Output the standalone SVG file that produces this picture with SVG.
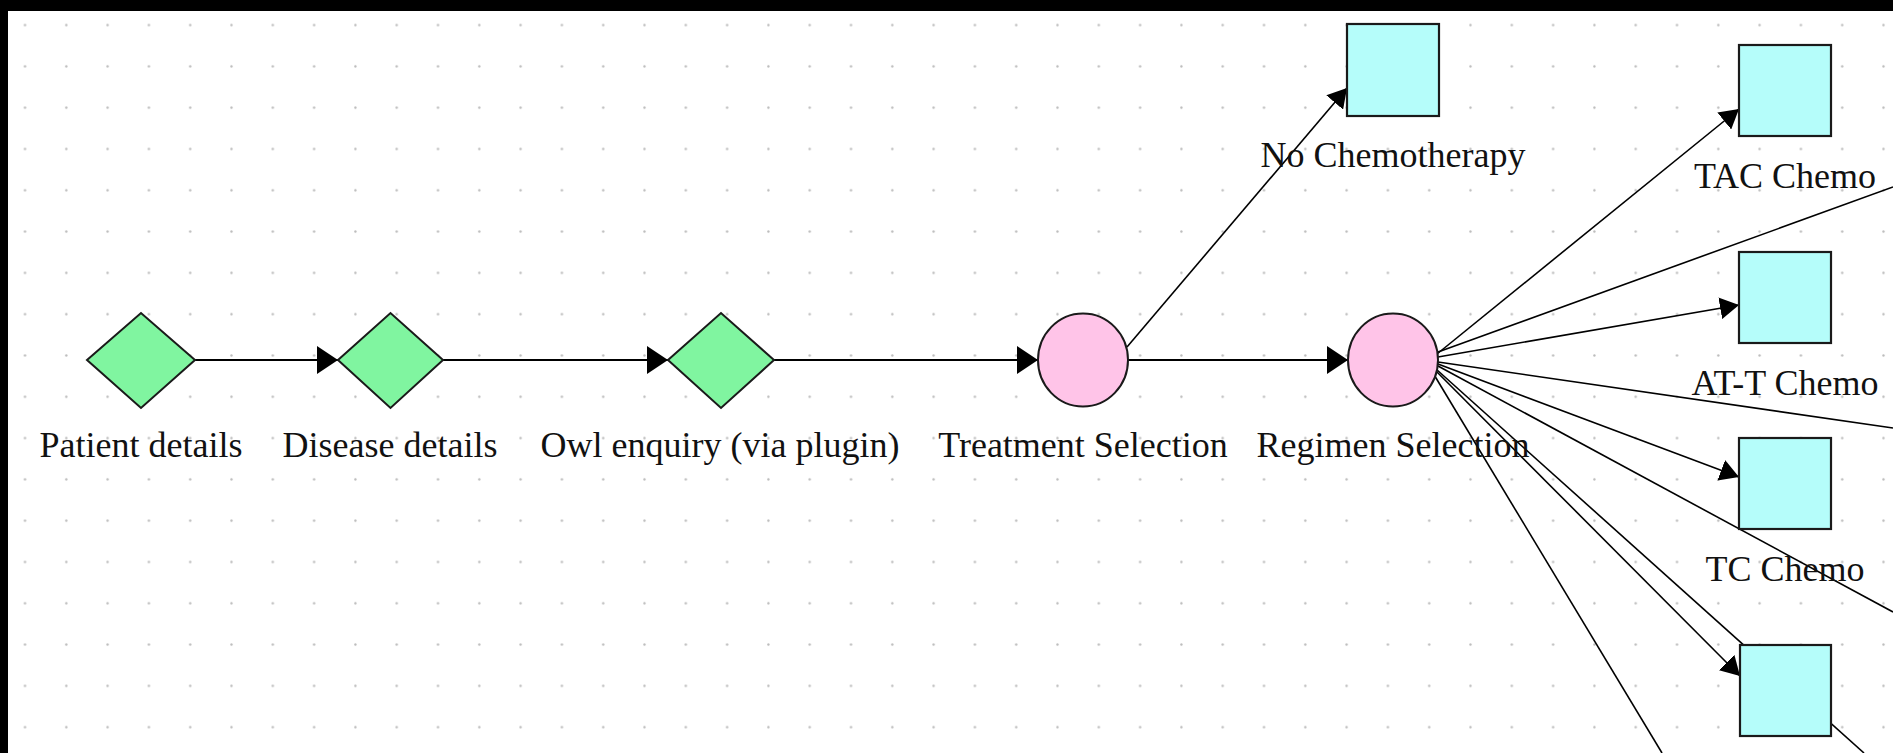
<svg xmlns="http://www.w3.org/2000/svg" width="1893" height="753" viewBox="0 0 1893 753">
<style>
.lbl{font-family:"Liberation Serif","Times New Roman",serif;font-size:36px;fill:#111;text-anchor:middle}
.dia{fill:#80F5A0;stroke:#1a1a1a;stroke-width:2}
.cir{fill:#FFC4E8;stroke:#1a1a1a;stroke-width:2}
.box{fill:#B5FDFA;stroke:#1a1a1a;stroke-width:2.2}
.con{fill:none;stroke:#000;stroke-width:1.6}
.conh{fill:none;stroke:#000;stroke-width:2}
</style>
<defs>
<pattern id="grid" patternUnits="userSpaceOnUse" x="0" y="0" width="41.3" height="41.3">
<circle cx="25" cy="25" r="1.2" fill="#bbbbbb"/>
</pattern>
<marker id="arr" markerUnits="userSpaceOnUse" markerWidth="24" markerHeight="28" refX="21" refY="14" orient="auto">
<path d="M0,0 L21,14 L0,28 z" fill="#000"/>
</marker>
<marker id="arrs" markerUnits="userSpaceOnUse" markerWidth="22" markerHeight="22" refX="19" refY="11" orient="auto">
<path d="M0,0 L19,11 L0,22 z" fill="#000"/>
</marker>
</defs>
<rect x="0" y="0" width="1893" height="753" fill="#fff"/>
<rect x="0" y="0" width="1893" height="753" fill="url(#grid)"/>
<rect x="0" y="0" width="1893" height="11" fill="#000"/>
<rect x="0" y="0" width="8" height="753" fill="#000"/>

<g id="connectors">
<line class="conh" x1="195" y1="360" x2="338" y2="360" marker-end="url(#arr)"/>
<line class="conh" x1="443" y1="360" x2="668" y2="360" marker-end="url(#arr)"/>
<line class="conh" x1="774" y1="360" x2="1038" y2="360" marker-end="url(#arr)"/>
<line class="conh" x1="1128" y1="360" x2="1348" y2="360" marker-end="url(#arr)"/>
<line class="con" x1="1127" y1="347" x2="1347" y2="88" marker-end="url(#arrs)"/>
<line class="con" x1="1437" y1="354" x2="1739" y2="109" marker-end="url(#arrs)"/>
<line class="con" x1="1438" y1="352" x2="1893" y2="187"/>
<line class="con" x1="1438" y1="357" x2="1739" y2="305" marker-end="url(#arrs)"/>
<line class="con" x1="1438" y1="362" x2="1893" y2="428"/>
<line class="con" x1="1438" y1="364" x2="1739" y2="477" marker-end="url(#arrs)"/>
<line class="con" x1="1438" y1="366" x2="1893" y2="612"/>
<line class="con" x1="1436" y1="369" x2="1864" y2="753"/>
<line class="con" x1="1436" y1="371" x2="1740" y2="676" marker-end="url(#arrs)"/>
<line class="con" x1="1433" y1="373" x2="1662" y2="753"/>
</g>

<g id="patient-details">
<polygon class="dia" points="87,360 141,313 195,360 141,408"/>
<text class="lbl" x="141" y="457">Patient details</text>
</g>
<g id="disease-details">
<polygon class="dia" points="338,360 390.5,313 443,360 390.5,408"/>
<text class="lbl" x="390" y="457">Disease details</text>
</g>
<g id="owl-enquiry">
<polygon class="dia" points="668,360 721,313 774,360 721,408"/>
<text class="lbl" x="720" y="457">Owl enquiry (via plugin)</text>
</g>
<g id="treatment-selection">
<ellipse class="cir" cx="1083" cy="360" rx="45" ry="46.5"/>
<text class="lbl" x="1083" y="457">Treatment Selection</text>
</g>
<g id="regimen-selection">
<ellipse class="cir" cx="1393" cy="360" rx="45" ry="46.5"/>
<text class="lbl" x="1393" y="457">Regimen Selection</text>
</g>
<g id="no-chemotherapy">
<rect class="box" x="1347" y="24" width="92" height="92"/>
<text class="lbl" x="1393" y="167">No Chemotherapy</text>
</g>
<g id="tac-chemo">
<rect class="box" x="1739" y="45" width="92" height="91"/>
<text class="lbl" x="1785" y="188">TAC Chemo</text>
</g>
<g id="at-t-chemo">
<rect class="box" x="1739" y="252" width="92" height="91"/>
<text class="lbl" x="1785" y="395">AT-T Chemo</text>
</g>
<g id="tc-chemo">
<rect class="box" x="1739" y="438" width="92" height="91"/>
<text class="lbl" x="1785" y="581">TC Chemo</text>
</g>
<g id="regimen-4">
<rect class="box" x="1740" y="645" width="91" height="91"/>
</g>
</svg>
